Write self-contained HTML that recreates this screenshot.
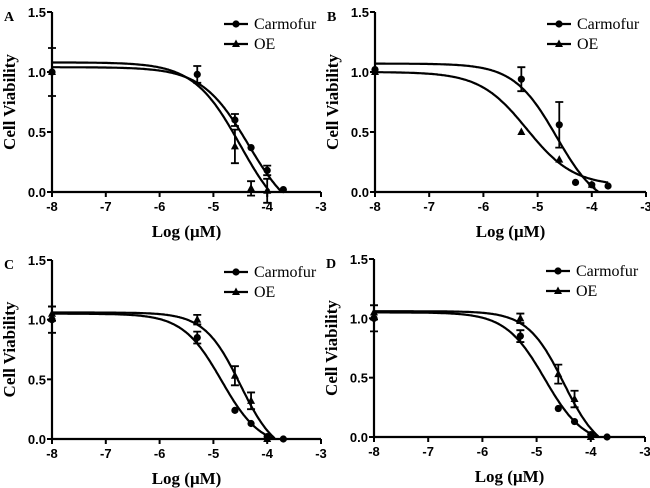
<!DOCTYPE html>
<html><head><meta charset="utf-8"><style>
html,body{margin:0;padding:0;background:#fff}
svg{display:block}
.tick{font-family:"Liberation Sans",sans-serif;font-weight:bold;font-size:13px}
.ttl{font-family:"Liberation Serif",serif;font-weight:bold;font-size:17px}
.leg{font-family:"Liberation Serif",serif;font-size:16px}
.let{font-family:"Liberation Serif",serif;font-weight:bold;font-size:14px}
</style></head><body>
<svg id="fig" width="650" height="488"></svg>
<script>
const xTicks = [-8,-7,-6,-5,-4,-3];
const yTicks = [0,0.5,1.0,1.5];
const yTickLabels = ["0.0","0.5","1.0","1.5"];
const panelLetters = ["A","B","C","D"];
// Carmofur points (x, y, err) per panel
const carmX = [-8,-5.3,-4.6,-4.3,-4,-3.7];
const carmY_A = [1.0,0.98,0.60,0.37,0.18,0.02];
const carmE_A = [0.2,0.07,0.05,0.0,0.04,0.0];
const carmY_B = [1.02,0.94,0.56,0.08,0.06,0.05];
const carmE_B = [0.0,0.1,0.19,0.0,0.0,0.0];
const carmY_C = [1.0,0.85,0.24,0.13,0.02,0.0];
const carmE_C = [0.11,0.05,0.0,0.0,0.0,0.0];
const carmY_D = [1.0,0.85,0.24,0.13,0.02,0.0];
const carmE_D = [0.11,0.05,0.0,0.0,0.0,0.0];
// OE points
const oeX = [-8,-5.3,-4.6,-4.3,-4];
const oeY_A = [1.0,null,0.38,0.03,0.01];
const oeE_A = [0.0,0,0.14,0.06,0.1];
const oeY_B = [1.0,0.50,0.27,null,0.06];
const oeE_B = [0,0,0,0,0];
const oeY_C = [1.05,1.0,0.53,0.32,0.0];
const oeE_C = [0.06,0.04,0.08,0.07,0];
const oeY_D = [1.05,1.0,0.53,0.32,0.0];
const oeE_D = [0.06,0.04,0.08,0.07,0];
// fitted curve parameters: top, bottom, logIC50, hill
const carmTop = [1.04,1.07,1.05,1.05];
const carmBottom = [-0.25,-0.15,-0.07,-0.07];
const carmIC50 = [-4.35,-4.65,-4.85,-4.85];
const carmHill = [1.0,1.1,1.2,1.2];
const oeTop = [1.08,1.0,1.06,1.06];
const oeBottom = [-0.3,0.05,-0.15,-0.15];
const oeIC50 = [-4.5,-5.2,-4.5,-4.5];
const oeHill = [1.0,1.0,1.3,1.3];

const NS="http://www.w3.org/2000/svg";
const svg=document.getElementById('fig');
function mk(tag,attrs,parent){const e=document.createElementNS(NS,tag);for(const k in attrs)e.setAttribute(k,attrs[k]);(parent||svg).appendChild(e);return e;}
const panels=[[52,321,192,12],[375,646,192,12],[52,321,439,260],[374,645,437,259]];
const carmYs=[carmY_A,carmY_B,carmY_C,carmY_D], carmEs=[carmE_A,carmE_B,carmE_C,carmE_D];
const oeYs=[oeY_A,oeY_B,oeY_C,oeY_D], oeEs=[oeE_A,oeE_B,oeE_C,oeE_D];
function hill(x,t,b,c,h){return b+(t-b)/(1+Math.pow(10,(x-c)*h));}
panels.forEach((p,i)=>{
  const [x0,x1,y0,y1]=p;
  const sx=v=>x0+(v+8)/5*(x1-x0);
  const sy=v=>y0-v/1.5*(y0-y1);
  const g=mk('g',{});
  
  
  const L=mk('text',{x:x0-48,y:y1+9,class:'let'},g);L.textContent=panelLetters[i];
  
  const ax=mk('path',{d:`M${x0},${y1}V${y0}H${x1}`,stroke:'#000','stroke-width':2.2,fill:'none'},g);
  
  xTicks.forEach(v=>{mk('line',{x1:sx(v),x2:sx(v),y1:y0,y2:y0+5,stroke:'#000','stroke-width':2},g);
    const t=mk('text',{x:sx(v),y:y0+19,'text-anchor':'middle',class:'tick'},g);t.textContent=v;
    });
  yTicks.forEach((v,k)=>{mk('line',{x1:x0-5,x2:x0,y1:sy(v),y2:sy(v),stroke:'#000','stroke-width':2},g);
    const t=mk('text',{x:x0-6,y:sy(v)+5,'text-anchor':'end',class:'tick'},g);t.textContent=yTickLabels[k];
    });
  const yt=mk('text',{transform:`translate(${x0-37},${(y0+y1)/2}) rotate(-90)`,'text-anchor':'middle',class:'ttl'},g);
  yt.textContent='Cell Viability';
  const xt=mk('text',{x:(x0+x1)/2,y:y0+45,'text-anchor':'middle',class:'ttl'},g);
  xt.textContent='Log (\u03bcM)';
  function curve(t,b,c,h,name){let d='';for(let x=-8;x<=-3.7;x+=0.02){const y=hill(x,t,b,c,h);if(y<0)break;d+=(d?'L':'M')+sx(x).toFixed(1)+','+sy(y).toFixed(1);}
    const e=mk('path',{d,stroke:'#000','stroke-width':2.2,fill:'none'},g);}
  curve(carmTop[i],carmBottom[i],carmIC50[i],carmHill[i],'carmofur-curve');
  curve(oeTop[i],oeBottom[i],oeIC50[i],oeHill[i],'oe-curve');
  function errs(xs,ys,es){xs.forEach((x,k)=>{if(ys[k]==null||!es[k])return;const X=sx(x);
    mk('path',{d:`M${X},${sy(ys[k]-es[k])}V${sy(ys[k]+es[k])}M${X-4},${sy(ys[k]-es[k])}h8M${X-4},${sy(ys[k]+es[k])}h8`,stroke:'#000','stroke-width':1.8,fill:'none'},g);});}
  errs(carmX,carmYs[i],carmEs[i]);errs(oeX,oeYs[i],oeEs[i]);
  carmX.forEach((x,k)=>{const c=mk('circle',{cx:sx(x),cy:sy(carmYs[i][k]),r:3.6,fill:'#000'},g);
    });
  oeX.forEach((x,k)=>{if(oeYs[i][k]==null)return;const X=sx(x),Y=sy(oeYs[i][k]);
    const t=mk('path',{d:`M${X},${Y-4.5}L${X+4},${Y+3}L${X-4},${Y+3}Z`,fill:'#000'},g);
    });
  const lx=x0+172,ly=y1+12;
  const lg=mk('g',{},g);
  mk('line',{x1:lx,x2:lx+24,y1:ly,y2:ly,stroke:'#000','stroke-width':2.2},lg);
  mk('circle',{cx:lx+12,cy:ly,r:3.6,fill:'#000'},lg);
  const t1=mk('text',{x:lx+30,y:ly+5,class:'leg'},lg);t1.textContent='Carmofur';
  
  mk('line',{x1:lx,x2:lx+24,y1:ly+20,y2:ly+20,stroke:'#000','stroke-width':2.2},lg);
  mk('path',{d:`M${lx+12},${ly+15.5}L${lx+16},${ly+23}L${lx+8},${ly+23}Z`,fill:'#000'},lg);
  const t2=mk('text',{x:lx+30,y:ly+25,class:'leg'},lg);t2.textContent='OE';
  
});
</script>
</body></html>
